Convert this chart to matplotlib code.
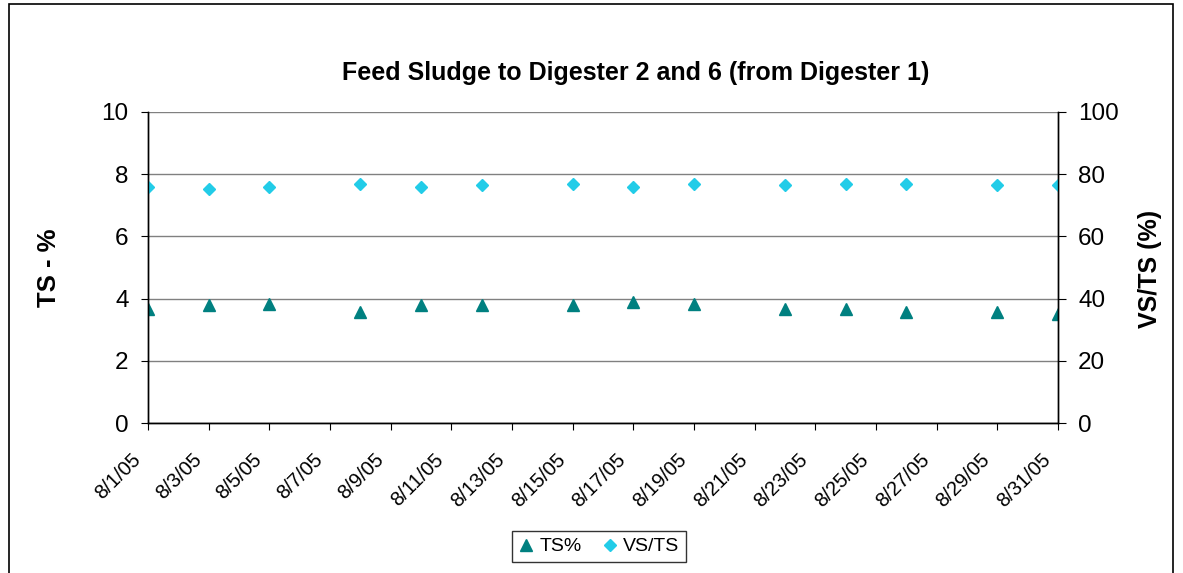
import matplotlib
matplotlib.use("Agg")
import matplotlib.pyplot as plt
import matplotlib.transforms as mtransforms
from matplotlib.patches import Rectangle
import datetime as dt

plt.rcParams['font.family'] = ['Liberation Sans', 'DejaVu Sans']

dates = ["2005-08-01", "2005-08-03", "2005-08-05", "2005-08-08", "2005-08-10",
         "2005-08-12", "2005-08-15", "2005-08-17", "2005-08-19", "2005-08-22",
         "2005-08-24", "2005-08-26", "2005-08-29", "2005-08-31"]
ts_pct = [3.67, 3.79, 3.83, 3.58, 3.79, 3.79, 3.79, 3.89, 3.83, 3.68, 3.68, 3.58, 3.58, 3.51]
vs_ts = [75.9, 75.3, 75.9, 77.0, 75.9, 76.5, 76.9, 75.9, 76.9, 76.5, 76.9, 76.9, 76.5, 76.5]
tick_dates = ["2005-08-%02d" % d for d in range(1, 32, 2)]

title = "Feed Sludge to Digester 2 and 6 (from Digester 1)"

x = [dt.datetime.strptime(d, "%Y-%m-%d") for d in dates]
xt = [dt.datetime.strptime(d, "%Y-%m-%d") for d in tick_dates]
xt_labels = [f"{d.month}/{d.day}/{d.strftime('%y')}" for d in xt]

W, H = 1183, 573
fig = plt.figure(figsize=(W / 100, H / 100), dpi=100)
ax = fig.add_axes([148 / W, 1 - 423 / H, (1058 - 148) / W, (423 - 112) / H])
ax2 = ax.twinx()

# outer chart border
fig.patches.append(Rectangle((9 / W, -0.05), (1173 - 9) / W, 1.05 - 4 / H,
                             transform=fig.transFigure, fill=False,
                             edgecolor='black', linewidth=1.2))

ax.set_ylim(0, 10)
ax.set_yticks([0, 2, 4, 6, 8, 10])
ax2.set_ylim(0, 100)
ax2.set_yticks([0, 20, 40, 60, 80, 100])
ax.set_xlim(xt[0], xt[-1])
ax.set_xticks(xt)
ax.set_xticklabels([])

# rotated date labels placed like the original
base = mtransforms.blended_transform_factory(ax.transData, ax.transAxes)
offset = mtransforms.ScaledTranslation(-17 / 100, -27 / 100, fig.dpi_scale_trans)
for d, lab in zip(xt, xt_labels):
    ax.text(d, 0, lab, transform=base + offset, rotation=45, ha='right', va='top',
            rotation_mode='anchor', fontsize=14.5, clip_on=False)

ax.yaxis.grid(True, color='#808080', linewidth=1.0)
ax.set_axisbelow(True)

for a in (ax, ax2):
    a.spines['top'].set_visible(False)
    for s in ('left', 'right', 'bottom'):
        a.spines[s].set_linewidth(1.0)
        a.spines[s].set_color('black')
ax.tick_params(axis='y', labelsize=17.5, length=5, direction='out', pad=9)
ax2.tick_params(axis='y', labelsize=17.5, length=5.5, direction='out', pad=9)
ax.tick_params(axis='x', length=5, direction='out')

l1, = ax.plot(x, ts_pct, linestyle='none', marker='^', markersize=8,
              color='#008080', label='TS%')
l2, = ax2.plot(x, vs_ts, linestyle='none', marker='D', markersize=6.3,
               color='#22CCE8', label='VS/TS')

ax.set_ylabel("TS - %", fontsize=18.5, fontweight='bold')
ax.yaxis.set_label_coords((61 - 148) / 910, (423 - 268) / 311)
ax2.set_ylabel("VS/TS (%)", fontsize=18, fontweight='bold', rotation=90)
ax2.yaxis.set_label_coords((1138 - 148) / 910, (423 - 269) / 311)
fig.text(636 / W, 1 - 73 / H, title, ha='center', va='center',
         fontsize=18, fontweight='bold')

leg = fig.legend(handles=[l1, l2], loc='center', bbox_to_anchor=(599 / W, 1 - 546.5 / H),
                 ncol=2, frameon=True, fancybox=False, edgecolor='black',
                 fontsize=14, handlelength=0.8, handletextpad=0.3, columnspacing=1.0,
                 borderpad=0.35, markerscale=1.0)
leg.get_frame().set_linewidth(1.0)

fig.savefig("out.png", dpi=100)
